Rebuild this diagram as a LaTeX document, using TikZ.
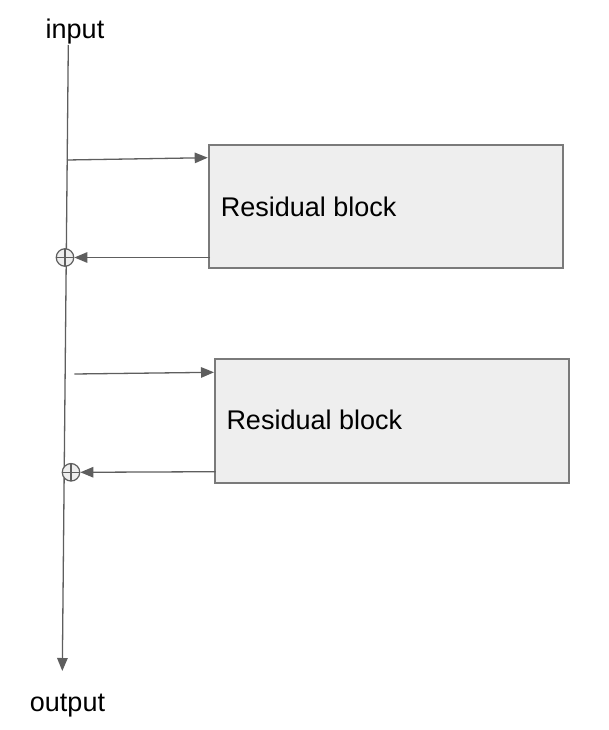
\documentclass[tikz,border=0pt]{standalone}
\usepackage{fontspec}
\setmainfont{Liberation Sans}
\usetikzlibrary{arrows.meta,calc}
\definecolor{linegray}{HTML}{5E5E5E}
\definecolor{boxfill}{HTML}{EEEEEE}
\definecolor{boxline}{HTML}{7A7A7A}
\begin{document}
\begin{tikzpicture}[x=1pt,y=-1pt,
  conn/.style={draw=linegray,line width=1.3pt,-{Triangle[length=13pt,width=10.5pt]}},
  blockbox/.style={draw=boxline,fill=boxfill,line width=1.8pt,inner sep=0pt,anchor=north west},
  blocktext/.style={inner sep=0pt,anchor=base west,font=\fontsize{27}{32}\selectfont},
  iotext/.style={inner sep=0pt,anchor=base,font=\fontsize{27}{32}\selectfont},
  adder/.style={circle,draw=linegray,fill=boxfill,line width=1.2pt,minimum size=17.5pt,inner sep=0pt,
    path picture={\draw[linegray,line width=1.1pt]
      (path picture bounding box.north) -- (path picture bounding box.south)
      (path picture bounding box.west) -- (path picture bounding box.east);}}]
\useasboundingbox (0,0) rectangle (608,730);
% labels
\node[iotext] (input) at (75,39) {input};
\node[iotext] (output) at (67.5,711.5) {output};
% main line
\coordinate (top) at (68.3,45);
\coordinate (bottom) at (62.3,671);
\draw[conn] (top) -- (bottom);
% adders
\node[adder] (add1) at (65,257.5) {};
\node[adder] (add2) at (71,472.3) {};
% boxes
\node[blockbox,minimum width=354.3pt,minimum height=123.3pt] (box1) at (207.7,144) {};
\node[blockbox,minimum width=354.3pt,minimum height=123.4pt] (box2) at (214,358.3) {};
\node[blocktext] (lab1) at (220.7,216) {Residual block};
\node[blocktext] (lab2) at (226.3,429.3) {Residual block};
% branch coordinates
\coordinate (br1) at (67,160);
\coordinate (br2) at (74.3,374);
\draw[conn] (br1) -- ([yshift=-13.7pt]box1.north west);
\draw[conn] (br2) -- ([yshift=-14pt]box2.north west);
\draw[conn] ([xshift=2.5pt,yshift=-113.5pt]box1.north west) -- (add1.east);
\draw[conn] ([xshift=1.5pt,yshift=-113.4pt]box2.north west) -- (add2.east);
\end{tikzpicture}
\end{document}
